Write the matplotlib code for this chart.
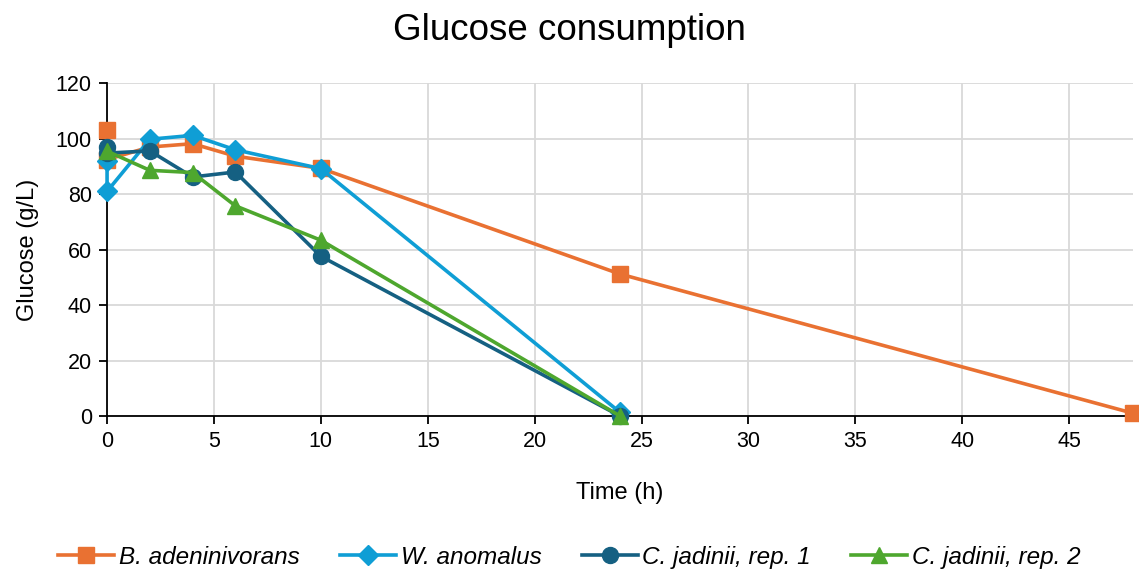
import matplotlib
matplotlib.use("Agg")
import matplotlib.pyplot as plt

plt.rcParams['font.family'] = ['Liberation Sans', 'DejaVu Sans']

# Data
t_bad = [0, 0, 2, 4, 6, 10, 24, 48]
g_bad = [103.3, 92.5, 97.0, 98.2, 93.7, 89.3, 51.2, 1.0]
t_wan = [0, 0, 2, 4, 6, 10, 24]
g_wan = [91.8, 81.0, 99.8, 101.2, 96.0, 89.2, 1.3]
t_cj1 = [0, 0, 2, 4, 6, 10, 24]
g_cj1 = [97.0, 94.8, 95.6, 86.2, 88.0, 57.6, 0.0]
t_cj2 = [0, 2, 4, 6, 10, 24]
g_cj2 = [95.5, 88.6, 87.8, 75.8, 63.4, 0.0]

labels = ["B. adeninivorans", "W. anomalus", "C. jadinii, rep. 1", "C. jadinii, rep. 2"]
colors = ["#E97132", "#0F9ED5", "#156082", "#4EA72E"]
markers = ["s", "D", "o", "^"]
msizes = [11.5, 10, 11.5, 12]

fig = plt.figure(figsize=(11.39, 5.70), dpi=100)
ax = fig.add_axes([0.094, 0.270, 0.901, 0.584])

series = [(t_bad, g_bad), (t_wan, g_wan), (t_cj1, g_cj1), (t_cj2, g_cj2)]
for (t, g), lab, c, m, ms in zip(series, labels, colors, markers, msizes):
    ax.plot(t, g, color=c, marker=m, markersize=ms, linewidth=2.6,
            label=lab, clip_on=False, zorder=3)

ax.set_xlim(0, 48)
ax.set_ylim(0, 120)
ax.set_xticks(range(0, 50, 5))
ax.set_yticks(range(0, 121, 20))
ax.grid(True, color="#D9D9D9", linewidth=1.3)
ax.set_axisbelow(True)
for s in ["top", "right"]:
    ax.spines[s].set_visible(False)
for s in ["left", "bottom"]:
    ax.spines[s].set_color("black")
    ax.spines[s].set_linewidth(1.3)
ax.tick_params(axis="both", labelsize=15.5, length=6, width=1.3, colors="black")
ax.tick_params(axis="x", pad=5)
ax.tick_params(axis="y", pad=5)

ax.set_xlabel("Time (h)", fontsize=17, labelpad=21)
ax.set_ylabel("Glucose (g/L)", fontsize=17, labelpad=12)
fig.suptitle("Glucose consumption", fontsize=26.5, y=0.977)

leg = fig.legend(loc="lower center", bbox_to_anchor=(0.5, -0.036), ncol=4,
                 frameon=False, fontsize=17.5, handlelength=2.3,
                 columnspacing=1.65, handletextpad=0.2)
for txt in leg.get_texts():
    txt.set_fontstyle("italic")

fig.savefig("out.png", dpi=100)
